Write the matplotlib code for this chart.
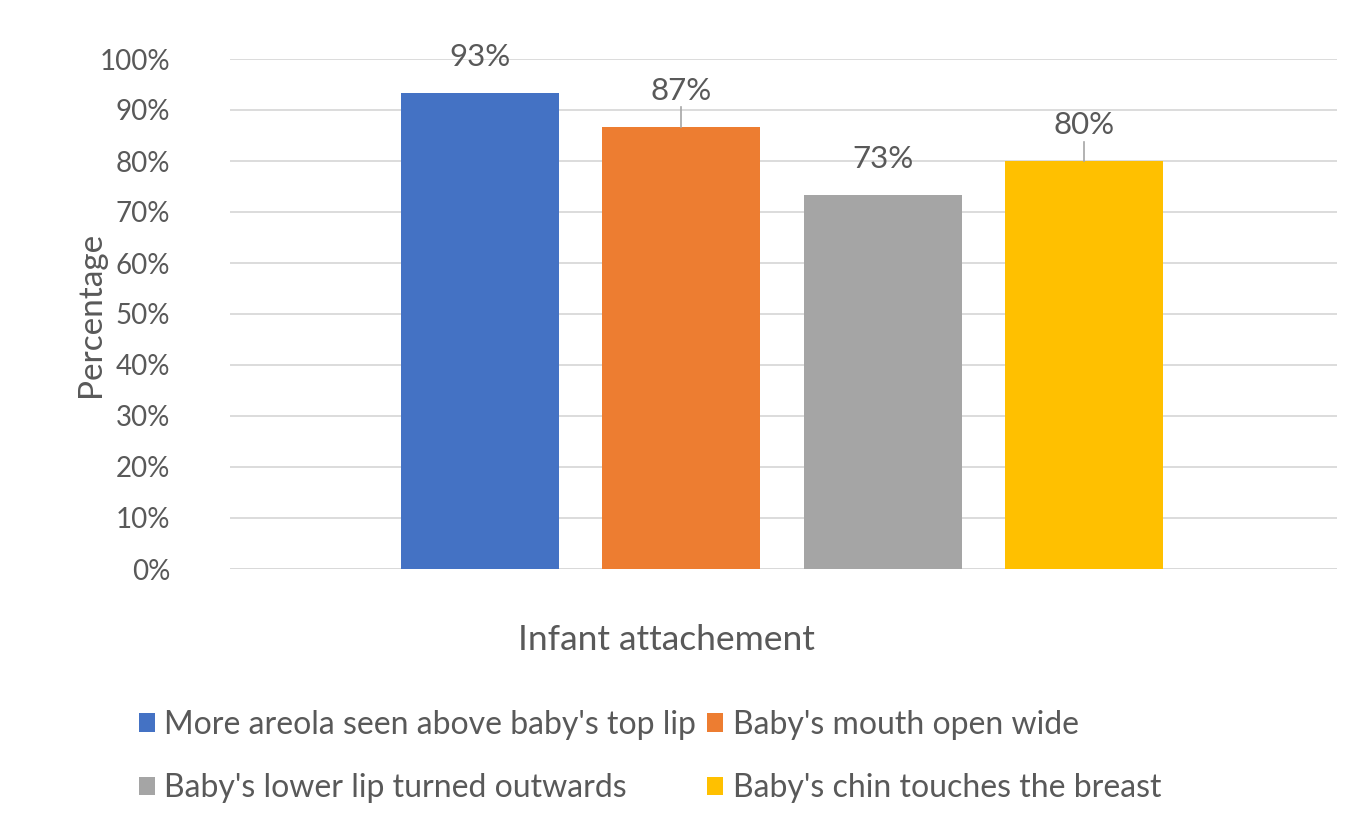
import matplotlib.pyplot as plt
import numpy as np

plt.rcParams['font.family'] = ['Lato', 'DejaVu Sans']

series = ["More areola seen above baby's top lip", "Baby's mouth open wide",
          "Baby's lower lip turned outwards", "Baby's chin touches the breast"]
values = [93.3, 86.7, 73.3, 80.0]
labels = ['93%', '87%', '73%', '80%']
colors = ['#4472C4', '#ED7D31', '#A5A5A5', '#FFC000']
leader = [False, True, False, True]
yticks = np.arange(0, 101, 10)

fig = plt.figure(figsize=(13.66, 8.27), dpi=100)
ax = fig.add_axes([230/1366, 1 - 569/827, (1337-230)/1366, (569-59)/827])

# one category, four series
w = 158
x = [401 + w/2 + i*201.3 for i in range(4)]
handles = []
for i in range(4):
    b = ax.bar(x[i], values[i], width=w, color=colors[i], label=series[i], zorder=3)
    handles.append(b)
    ty = values[i] + 7
    ax.text(x[i], ty, labels[i], ha='center', va='center', fontsize=22.5, color='#595959')
    if leader[i]:
        ax.plot([x[i], x[i]], [ty - 3.2, values[i]], color='#A6A6A6', lw=1.2, zorder=4)

ax.set_xlim(230, 1337)
ax.set_ylim(0, 100)
ax.set_yticks(yticks)
ax.set_yticklabels([f'{t}%' for t in yticks], fontsize=20, color='#595959')
ax.set_xticks([])
ax.yaxis.grid(True, color='#D9D9D9', lw=1.3, zorder=0)
ax.tick_params(axis='y', length=0, pad=43)
for s in ax.spines.values():
    s.set_visible(False)
ax.axhline(0, color='#D9D9D9', lw=1.3, zorder=2)

ax.set_ylabel('Percentage', fontsize=24, color='#595959')
ax.yaxis.set_label_coords(-0.112, 0.5)
fig.text(666/1366, 1 - 640/827, 'Infant attachement', ha='center', va='center',
         fontsize=25.5, color='#595959')

order = [0, 2, 1, 3]
fig.legend(handles=[handles[i] for i in order], labels=[series[i] for i in order],
           loc='upper left', bbox_to_anchor=(110/1366, 1 - 681/827),
           ncol=2, frameon=False, fontsize=23, labelcolor='#595959',
           handlelength=0.5, handleheight=0.5, handletextpad=0.3,
           columnspacing=0.35, labelspacing=1.05)

fig.savefig('out.png', dpi=100)
